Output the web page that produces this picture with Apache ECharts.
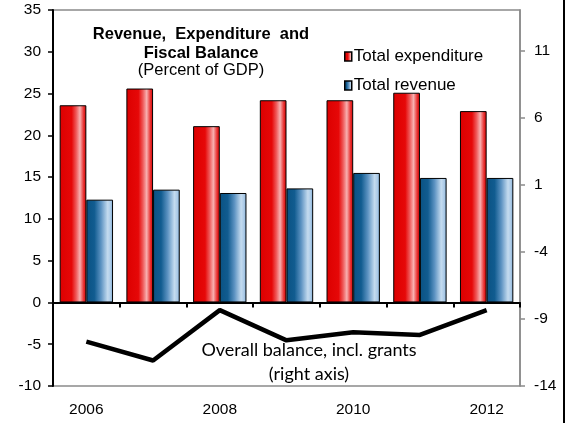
<!DOCTYPE html>
<html>
<head>
<meta charset="utf-8">
<script src="https://cdn.jsdelivr.net/npm/echarts@6/dist/echarts.min.js"></script>
<style>
  html, body { margin: 0; padding: 0; background: #fff; }
  #chart { width: 568px; height: 423px; }
</style>
</head>
<body>
<div id="chart"></div>
<script>
// Fiscal data, percent of GDP
const years = ['2006', '2007', '2008', '2009', '2010', '2011', '2012'];
const totalExpenditure = [23.6, 25.6, 21.1, 24.2, 24.2, 25.1, 22.9];
const totalRevenue = [12.3, 13.5, 13.1, 13.65, 15.5, 14.9, 14.9];
const overallBalance = [-10.7, -12.1, -8.35, -10.6, -10.0, -10.2, -8.35];

// Axis ticks
const leftTicks = { min: -10, max: 35, interval: 5 };
const rightTickValues = [-14, -9, -4, 1, 6, 11];
const rightRange = { min: -14, max: 14 };

const font = "'Liberation Sans', Arial, sans-serif";

function barGradient(stops) {
  return new echarts.graphic.LinearGradient(0, 0, 1, 0,
    stops.map(s => ({ offset: s[0], color: s[1] })));
}

const redFill = barGradient([
  [0, '#dc0000'], [0.45, '#e60808'], [0.62, '#ef5a5a'],
  [0.76, '#f8b0b0'], [0.9, '#e83030'], [1, '#d80000']
]);
const blueFill = barGradient([
  [0, '#0a5283'], [0.3, '#115c90'], [0.55, '#5d93c2'],
  [0.8, '#c4dbef'], [0.92, '#a8c8e6'], [1, '#6f9fcc']
]);

const chart = echarts.init(document.getElementById('chart'), null, { renderer: 'canvas' });

chart.setOption({
  animation: false,
  backgroundColor: '#fff',
  grid: {
    left: 53, right: 48, top: 10, bottom: 37,
    show: true, borderColor: '#8a8a8a', borderWidth: 1.5,
    containLabel: false
  },
  title: {
    text: 'Revenue,  Expenditure  and\nFiscal Balance',
    subtext: '(Percent of GDP)',
    left: 196, top: 20, textAlign: 'center',
    itemGap: -2,
    textStyle: { fontFamily: font, fontSize: 16.5, fontWeight: 'bold', color: '#000', lineHeight: 19 },
    subtextStyle: { fontFamily: font, fontSize: 16.5, color: '#000', lineHeight: 18 }
  },
  legend: {
    data: ['Total expenditure', 'Total revenue'],
    orient: 'vertical',
    left: 339, top: 43,
    itemWidth: 7, itemHeight: 9, itemGap: 12,
    icon: 'rect',
    itemStyle: { borderColor: '#000', borderWidth: 1.5 },
    textStyle: { fontFamily: font, fontSize: 17, color: '#000', padding: [0, 0, 0, -3] }
  },
  xAxis: [
    {
      type: 'category', data: years,
      axisLine: { onZero: true, onZeroAxisIndex: 0, lineStyle: { color: '#000', width: 2 } },
      axisTick: { show: true, length: 5, lineStyle: { color: '#000', width: 2 } },
      axisLabel: { show: false },
      splitLine: { show: false }
    },
    {
      type: 'category', data: years, position: 'bottom',
      axisLine: { show: false, onZero: false },
      axisTick: { show: false },
      axisLabel: { interval: 1, margin: 16, fontFamily: font, fontSize: 15.5, color: '#000' },
      splitLine: { show: false }
    }
  ],
  yAxis: [
    {
      type: 'value', position: 'left',
      min: leftTicks.min, max: leftTicks.max, interval: leftTicks.interval,
      axisLine: { show: true, lineStyle: { color: '#000', width: 2 } },
      axisTick: { show: true, length: 5, lineStyle: { color: '#000', width: 1.5 } },
      axisLabel: { margin: 12, fontFamily: font, fontSize: 15.5, color: '#000' },
      splitLine: { show: false }
    },
    {
      type: 'value', position: 'right',
      min: rightRange.min, max: rightRange.max,
      axisLine: { show: true, onZero: false, lineStyle: { color: '#8a8a8a', width: 1.5 } },
      axisTick: { show: true, length: 5, customValues: rightTickValues, lineStyle: { color: '#8a8a8a', width: 1.5 } },
      axisLabel: { margin: 14, customValues: rightTickValues, fontFamily: font, fontSize: 15.5, color: '#000' },
      splitLine: { show: false }
    }
  ],
  series: [
    {
      name: 'Total expenditure', type: 'bar', xAxisIndex: 0, yAxisIndex: 0,
      data: totalExpenditure,
      barGap: '0%', barCategoryGap: '20%',
      itemStyle: { color: redFill, borderColor: '#000', borderWidth: 1 }
    },
    {
      name: 'Total revenue', type: 'bar', xAxisIndex: 0, yAxisIndex: 0,
      data: totalRevenue,
      barGap: '0%', barCategoryGap: '20%',
      itemStyle: { color: blueFill, borderColor: '#000', borderWidth: 1 }
    },
    {
      name: 'Overall balance, incl. grants', type: 'line', xAxisIndex: 0, yAxisIndex: 1,
      data: overallBalance,
      symbol: 'none',
      lineStyle: { color: '#000', width: 4.5 },
      z: 5
    }
  ],
  graphic: [
    {
      type: 'text',
      style: {
        x: 309, y: 338,
        text: 'Overall balance, incl. grants\n(right axis)',
        fontFamily: "Lato, Carlito, sans-serif", fontSize: 18, lineHeight: 24,
        fill: '#000', align: 'center', verticalAlign: 'top'
      }
    },
    {
      type: 'line',
      shape: { x1: 564, y1: 0, x2: 564, y2: 423 },
      style: { stroke: '#000', lineWidth: 2 }
    }
  ]
});
</script>
</body>
</html>
